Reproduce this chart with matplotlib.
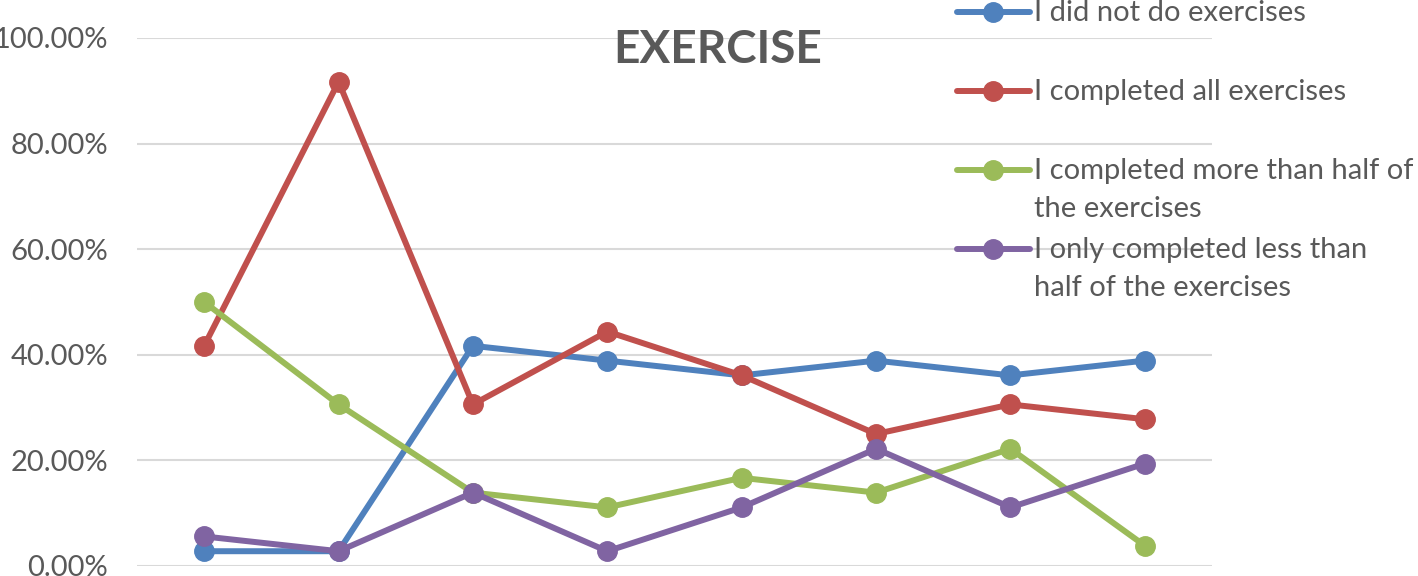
import matplotlib
matplotlib.use("Agg")
import matplotlib.pyplot as plt
from matplotlib.lines import Line2D
from matplotlib.ticker import PercentFormatter

plt.rcParams['font.family'] = ['Lato', 'DejaVu Sans']

# eight survey items, no category labels shown
items = list(range(8))

did_not = [2.8, 2.8, 41.7, 38.9, 36.1, 38.9, 36.1, 38.9]
all_done = [41.7, 91.7, 30.6, 44.4, 36.1, 25.0, 30.6, 27.8]
more_half = [50.0, 30.6, 13.9, 11.1, 16.7, 13.9, 22.2, 3.85]
less_half = [5.6, 2.8, 13.9, 2.8, 11.1, 22.2, 11.1, 19.4]

labels = ["I did not do exercises",
          "I completed all exercises",
          "I completed more than half of\nthe exercises",
          "I only completed less than\nhalf of the exercises"]
colors = ["#4F81BD", "#C0504D", "#9BBB59", "#8064A2"]
series = [did_not, all_done, more_half, less_half]

fig = plt.figure(figsize=(14.18, 5.76), dpi=100)
ax = fig.add_axes([137/1418, 10/576, 1075/1418, 528/576])

for vals, c in zip(series, colors):
    ax.plot(items, vals, color=c, lw=4.3, marker='o', ms=14,
            solid_capstyle='round', clip_on=False)

ax.set_xlim(-0.5, 7.5)
ax.set_ylim(0, 100)
ax.set_yticks([0, 20, 40, 60, 80, 100])
ax.yaxis.set_major_formatter(PercentFormatter(decimals=2))
ax.set_xticks([])
ax.grid(axis='y', color='#D9D9D9', lw=1.5)
ax.set_axisbelow(True)
for s in ax.spines.values():
    s.set_visible(False)
ax.tick_params(axis='y', length=0, pad=21, labelsize=21, labelcolor='#595959')

fig.text(718/1418, 1 - 50/576, "EXERCISE", ha='center', va='center',
         fontsize=33, fontweight='bold', color='#595959')

# legend drawn by hand so the marker sits on the first text line
y_rows = [12, 91, 170, 249]
for lab, c, yr in zip(labels, colors, y_rows):
    yf = 1 - yr/576
    fig.add_artist(Line2D([957/1418, 993/1418, 1030/1418], [yf, yf, yf],
                          transform=fig.transFigure, color=c, lw=4.3,
                          marker='o', ms=14, markevery=[1],
                          solid_capstyle='round'))
    fig.text(1034/1418, yf + 12/576, lab, ha='left', va='top', fontsize=21,
             color='#595959', linespacing=1.57)

fig.savefig("out.png", dpi=100, facecolor='white')
